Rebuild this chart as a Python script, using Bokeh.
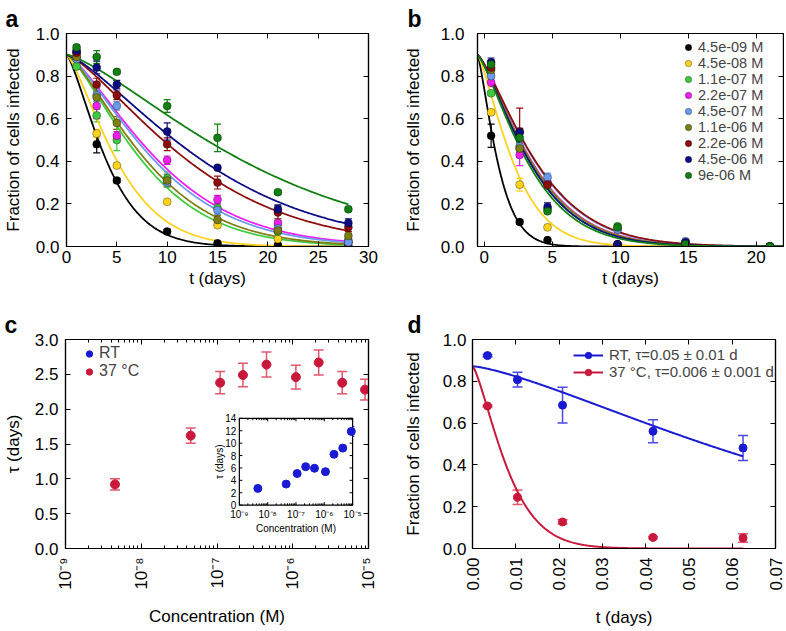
import math
import numpy as np
from bokeh.plotting import figure
from bokeh.layouts import column, row
from bokeh.models import (ColumnDataSource, Whisker, TeeHead, Legend, LegendItem, Title,
                          LinearAxis, LogAxis, FixedTicker, SingleIntervalTicker,
                          NumeralTickFormatter, CustomJSTickFormatter, Range1d, LogScale)
from bokeh.core.properties import value
from bokeh.embed import file_html
from bokeh.resources import INLINE

FONT = "Liberation Sans"

# ---------------- data ----------------
conc_labels = ["4.5e-09 M", "4.5e-08 M", "1.1e-07 M", "2.2e-07 M", "4.5e-07 M",
               "1.1e-06 M", "2.2e-06 M", "4.5e-06 M", "9e-06 M"]
conc_m = [4.5e-9, 4.5e-8, 1.1e-7, 2.2e-7, 4.5e-7, 1.1e-6, 2.2e-6, 4.5e-6, 9e-6]
series_colors = ["#000000", "#FFD21F", "#3FCB3F", "#F01EF0", "#6A9BEA",
                 "#7E7E14", "#8E0B0B", "#0B0B82", "#127F12"]

# panel a (room temperature)
days_a = [1, 3, 5, 10, 15, 21, 28]
a1 = [0.91, 0.48, 0.31, 0.07, 0.015, 0.006, 0.002]
a2 = [0.89, 0.53, 0.38, 0.21, 0.10, 0.035, 0.02]
a3 = [0.845, 0.615, 0.50, 0.32, 0.18, 0.07, 0.03]
a4 = [0.89, 0.66, 0.52, 0.405, 0.22, 0.11, 0.02]
a5 = [0.88, 0.71, 0.66, 0.30, 0.17, 0.085, 0.02]
a6 = [0.89, 0.70, 0.58, 0.31, 0.125, 0.075, 0.05]
a7 = [0.91, 0.76, 0.71, 0.48, 0.30, 0.16, 0.09]
a8 = [0.92, 0.84, 0.76, 0.54, 0.37, 0.175, 0.11]
a9 = [0.935, 0.89, 0.82, 0.66, 0.51, 0.255, 0.175]
ae1 = [0.01, 0.04, 0.01, 0.01, 0.005, 0.005, 0.005]
ae2 = [0.01, 0.02, 0.01, 0.01, 0.01, 0.005, 0.005]
ae3 = [0.01, 0.03, 0.05, 0.03, 0.02, 0.01, 0.01]
ae4 = [0.01, 0.06, 0.02, 0.02, 0.02, 0.01, 0.01]
ae5 = [0.01, 0.03, 0.02, 0.02, 0.02, 0.01, 0.01]
ae6 = [0.01, 0.03, 0.03, 0.03, 0.02, 0.01, 0.01]
ae7 = [0.01, 0.03, 0.02, 0.03, 0.03, 0.03, 0.02]
ae8 = [0.01, 0.03, 0.02, 0.04, 0.01, 0.02, 0.02]
ae9 = [0.01, 0.03, 0.01, 0.03, 0.065, 0.01, 0.01]

# panel b (37 C)
days_b = [0.5, 2.6, 4.65, 9.8, 14.8, 21.0]
b1 = [0.52, 0.115, 0.03, 0.004, 0.002, 0.0]
b2 = [0.63, 0.29, 0.09, 0.008, 0.003, 0.0]
b3 = [0.72, 0.46, 0.175, 0.095, 0.02, 0.0]
b4 = [0.77, 0.43, 0.30, 0.08, 0.02, 0.0]
b5 = [0.80, 0.47, 0.325, 0.08, 0.025, 0.0]
b6 = [0.83, 0.46, 0.29, 0.01, 0.01, 0.0]
b7 = [0.84, 0.54, 0.29, 0.01, 0.01, 0.0]
b8 = [0.865, 0.535, 0.185, 0.01, 0.02, 0.0]
b9 = [0.855, 0.51, 0.165, 0.09, 0.01, 0.0]
be1 = [0.055, 0.01, 0.005, 0.003, 0.002, 0.002]
be2 = [0.01, 0.03, 0.01, 0.005, 0.002, 0.002]
be3 = [0.01, 0.03, 0.01, 0.01, 0.005, 0.002]
be4 = [0.02, 0.05, 0.02, 0.01, 0.005, 0.002]
be5 = [0.02, 0.03, 0.02, 0.01, 0.005, 0.002]
be6 = [0.02, 0.03, 0.02, 0.005, 0.005, 0.002]
be7 = [0.02, 0.11, 0.02, 0.005, 0.005, 0.002]
be8 = [0.02, 0.02, 0.02, 0.005, 0.005, 0.002]
be9 = [0.02, 0.03, 0.01, 0.01, 0.005, 0.002]

# panel c: decay constants
tau_37 = [0.92, 1.62, 2.38, 2.49, 2.64, 2.46, 2.67, 2.38, 2.28]
tau_37_err = [0.08, 0.11, 0.16, 0.17, 0.18, 0.17, 0.18, 0.16, 0.15]
tau_rt = [2.7, 3.4, 5.1, 6.2, 5.95, 5.4, 8.2, 9.2, 11.9]
tau_rt_err = [0.3, 0.3, 0.4, 0.4, 0.4, 0.4, 0.6, 0.6, 0.8]

# panel d
days_d = [0.00347, 0.0104, 0.0208, 0.0417, 0.0625]
rt_d = [0.923, 0.808, 0.686, 0.561, 0.481]
rt_d_err = [0.005, 0.035, 0.085, 0.055, 0.06]
h37_d = [0.682, 0.245, 0.127, 0.053, 0.050]
h37_d_err = [0.005, 0.035, 0.01, 0.005, 0.02]
legend_d = ["RT, \u03c4=0.05 \u00b1 0.01 d", "37 \u00b0C, \u03c4=0.006 \u00b1 0.001 d"]

# fit model parameters (stretched exponential)
F0 = 0.9
K_A, BETA_A = 1.73, 1.35
K_B, BETA_B, T0_B = 1.88, 1.3, -0.5
F0_D = 0.872
fit_scale_d = [0.083, 0.0093]
BETA_D = 1.35

frac_a = [a1, a2, a3, a4, a5, a6, a7, a8, a9]
err_a = [ae1, ae2, ae3, ae4, ae5, ae6, ae7, ae8, ae9]
frac_b = [b1, b2, b3, b4, b5, b6, b7, b8, b9]
err_b = [be1, be2, be3, be4, be5, be6, be7, be8, be9]

RED = "#C8193C"
RED_ERR = "#E2566F"
BLUE = "#1A1AD2"
BLUE_ERR = "#4A4AE6"


# ---------------- helpers ----------------
def base_fig(w, h, l, r, t, b, xr, yr, x_log=False):
    p = figure(width=w, height=h, x_range=xr, y_range=yr,
               x_axis_type="log" if x_log else "linear",
               output_backend="svg", toolbar_location=None,
               min_border_left=l, min_border_right=r,
               min_border_top=t, min_border_bottom=b)
    p.xgrid.visible = False
    p.ygrid.visible = False
    p.outline_line_color = "black"
    p.outline_line_width = 1.2
    p.background_fill_color = "white"
    p.border_fill_color = "white"
    return p


def style_axis(ax, ticker, fmt=None, standoff=7, size="17px", labels=True, minor=False):
    ax.ticker = ticker
    if fmt is not None:
        ax.formatter = fmt
    ax.axis_line_color = "black"
    ax.axis_line_width = 1.2
    ax.major_tick_in = 5
    ax.major_tick_out = 0
    ax.major_tick_line_color = "black"
    if minor:
        ax.minor_tick_in = 3
        ax.minor_tick_out = 0
        ax.minor_tick_line_color = "black"
    else:
        ax.minor_tick_line_color = None
    ax.major_label_text_font = FONT
    ax.axis_label_text_font = FONT
    ax.axis_label_text_font_size = "17px"
    ax.axis_label_text_font_style = "normal"
    ax.axis_label_text_color = "black"
    if labels:
        ax.major_label_text_font_size = size
        ax.major_label_text_color = "black"
        ax.major_label_standoff = standoff
    else:
        ax.major_label_text_font_size = "0px"
        ax.major_label_text_color = None
        ax.major_label_standoff = 0


def axis_title(ax, text, standoff):
    ax.axis_label = text
    ax.axis_label_standoff = standoff


def mirror(p, xt, yt, x_log=False, minor=False):
    top = LogAxis() if x_log else LinearAxis()
    style_axis(top, xt, labels=False, minor=minor)
    p.add_layout(top, "above")
    right = LinearAxis()
    style_axis(right, yt, labels=False)
    p.add_layout(right, "right")


def panel_letter(p, letter, offset):
    p.add_layout(Title(text=letter, align="left", offset=offset, standoff=0,
                       vertical_align="top", text_font=FONT, text_font_size="23px",
                       text_font_style="bold", text_color="black"), "above")


def err_source(x, y, e):
    return ColumnDataSource(dict(x=x, y=y,
                                 lo=[v - d for v, d in zip(y, e)],
                                 hi=[v + d for v, d in zip(y, e)]))


def add_whisker(p, src, color, head=7, width=1.2, **kw):
    p.add_layout(Whisker(source=src, base="x", upper="hi", lower="lo",
                         line_color=color, line_width=width,
                         upper_head=TeeHead(size=head, line_color=color, line_width=width),
                         lower_head=TeeHead(size=head, line_color=color, line_width=width),
                         **kw))


sup_fmt = CustomJSTickFormatter(code="""
const sup = {'-':'\u207b','0':'\u2070','1':'\u00b9','2':'\u00b2','3':'\u00b3','4':'\u2074',
             '5':'\u2075','6':'\u2076','7':'\u2077','8':'\u2078','9':'\u2079'};
const e = Math.round(Math.log10(tick));
return '10' + String(e).split('').map(c => sup[c]).join('');
""")

# ---------------- panel a ----------------
pa = base_fig(390, 310, 63, 22, 33, 64, Range1d(0, 30), Range1d(0, 1))
xt_a = SingleIntervalTicker(interval=5, num_minor_ticks=0)
yt_frac = SingleIntervalTicker(interval=0.2, num_minor_ticks=0)
style_axis(pa.xaxis[0], xt_a, standoff=4)
style_axis(pa.yaxis[0], yt_frac, NumeralTickFormatter(format="0.0"), standoff=7)
axis_title(pa.xaxis[0], "t (days)", 3)
axis_title(pa.yaxis[0], "Fraction of cells infected", 10)
mirror(pa, xt_a, yt_frac)
panel_letter(pa, "a", -61)

t_fit_a = np.linspace(0, max(days_a), 300)
for i in range(9):
    lam = K_A * tau_rt[i]
    pa.line(t_fit_a, F0 * np.exp(-(t_fit_a / lam) ** BETA_A),
            line_color=series_colors[i], line_width=1.8)
for i in range(9):
    src = err_source(days_a, frac_a[i], err_a[i])
    add_whisker(pa, src, series_colors[i])
    pa.scatter("x", "y", source=src, size=8, fill_color=series_colors[i],
               line_color="black", line_alpha=0.55, line_width=0.6)

# ---------------- panel b ----------------
pb = base_fig(394, 310, 87, 1, 33, 64, Range1d(-0.5, 22), Range1d(0, 1))
xt_b = SingleIntervalTicker(interval=5, num_minor_ticks=0)
style_axis(pb.xaxis[0], xt_b, standoff=4)
style_axis(pb.yaxis[0], yt_frac, NumeralTickFormatter(format="0.0"), standoff=13)
axis_title(pb.xaxis[0], "t (days)", 3)
axis_title(pb.yaxis[0], "Fraction of cells infected", 15)
mirror(pb, xt_b, yt_frac)
panel_letter(pb, "b", -70)

t_fit_b = np.linspace(T0_B, 22, 300)
for i in range(9):
    lam = K_B * tau_37[i]
    pb.line(t_fit_b, F0 * np.exp(-((t_fit_b - T0_B) / lam) ** BETA_B),
            line_color=series_colors[i], line_width=1.8)
items_b = []
for i in range(9):
    src = err_source(days_b, frac_b[i], err_b[i])
    add_whisker(pb, src, series_colors[i])
    r = pb.scatter("x", "y", source=src, size=8, fill_color=series_colors[i],
                   line_color="black", line_alpha=0.55, line_width=0.6)
    bar = pb.scatter(x=[], y=[], marker="dash", angle=math.pi / 2, size=14,
                     line_color=series_colors[i], line_width=1.2)
    items_b.append(LegendItem(label=conc_labels[i], renderers=[bar, r]))
leg_b = Legend(items=items_b, location=(202, 63), glyph_width=18, glyph_height=16,
               label_height=16, label_standoff=1, spacing=0, padding=0, margin=0,
               border_line_color=None, background_fill_alpha=0,
               label_text_font=FONT, label_text_font_size="14.5px")
pb.add_layout(leg_b)

# ---------------- panel c ----------------
pc = base_fig(390, 319, 63, 22, 29, 78, Range1d(1e-9, 1e-5), Range1d(0, 3), x_log=True)
decades = [1e-9, 1e-8, 1e-7, 1e-6, 1e-5]
minor_dec = [k * d for d in decades[:-1] for k in range(2, 10)]
xt_c = FixedTicker(ticks=decades, minor_ticks=minor_dec)
yt_c = SingleIntervalTicker(interval=0.5, num_minor_ticks=0)
style_axis(pc.xaxis[0], xt_c, sup_fmt, standoff=9, minor=True)
pc.xaxis[0].major_label_orientation = math.pi / 2
style_axis(pc.yaxis[0], yt_c, NumeralTickFormatter(format="0.0"), standoff=7)
axis_title(pc.xaxis[0], "Concentration (M)", 14)
axis_title(pc.yaxis[0], "\u03c4 (days)", 9)
mirror(pc, xt_c, yt_c, x_log=True, minor=True)
panel_letter(pc, "c", -61)

# inset placement (page pixels) inside the frame of panel c
FR_L, FR_R, FR_T, FR_B = 63, 368, 339, 551
IN_L, IN_R, IN_T, IN_B = 238, 352, 419, 507
inset_x_lim = [1e-9, 1e-5]
inset_y_lim = [0, 14]
lx0, lx1 = math.log10(inset_x_lim[0]), math.log10(inset_x_lim[1])
dpp = (lx1 - lx0) / (IN_R - IN_L)
upp = (inset_y_lim[1] - inset_y_lim[0]) / (IN_B - IN_T)
pc.extra_x_ranges = {"ix": Range1d(10 ** (lx0 - (IN_L - FR_L) * dpp),
                                   10 ** (lx1 + (FR_R - IN_R) * dpp))}
pc.extra_x_scales = {"ix": LogScale()}
pc.extra_y_ranges = {"iy": Range1d(inset_y_lim[0] - (FR_B - IN_B) * upp,
                                   inset_y_lim[1] + (IN_T - FR_T) * upp)}
IK = dict(x_range_name="ix", y_range_name="iy")

pc.quad(left=[inset_x_lim[0]], right=[inset_x_lim[1]], bottom=[inset_y_lim[0]],
        top=[inset_y_lim[1]], fill_color="white", line_color="black", line_width=1.2, **IK)
inset_yticks = [0, 2, 4, 6, 8, 10, 12, 14]
tl_y = 3 * upp
tl_x = 10 ** (3 * dpp)
seg_x0, seg_y0, seg_x1, seg_y1 = [], [], [], []
for d in decades:
    seg_x0 += [d, d]; seg_x1 += [d, d]
    seg_y0 += [inset_y_lim[0], inset_y_lim[1]]
    seg_y1 += [inset_y_lim[0] + tl_y, inset_y_lim[1] - tl_y]
for d in minor_dec:
    seg_x0 += [d, d]; seg_x1 += [d, d]
    seg_y0 += [inset_y_lim[0], inset_y_lim[1]]
    seg_y1 += [inset_y_lim[0] + 0.6 * tl_y, inset_y_lim[1] - 0.6 * tl_y]
for v in inset_yticks:
    seg_x0 += [inset_x_lim[0], inset_x_lim[1]]
    seg_x1 += [inset_x_lim[0] * tl_x, inset_x_lim[1] / tl_x]
    seg_y0 += [v, v]; seg_y1 += [v, v]
pc.segment(seg_x0, seg_y0, seg_x1, seg_y1, line_color="black", line_width=1, **IK)
sup = str.maketrans("-0123456789", "\u207b\u2070\u00b9\u00b2\u00b3\u2074\u2075\u2076\u2077\u2078\u2079")
pc.text(x=[inset_x_lim[0] / 10 ** (3 * dpp)] * len(inset_yticks), y=inset_yticks,
        text=[str(v) for v in inset_yticks], text_font=value(FONT), text_font_size="10px",
        text_align="right", text_baseline="middle", text_color="black", **IK)
pc.text(x=decades, y=[inset_y_lim[0] - 4 * upp] * len(decades),
        text=["10" + str(round(math.log10(d))).translate(sup) for d in decades],
        text_font=value(FONT), text_font_size="10px", text_align="center",
        text_baseline="top", text_color="black", **IK)
pc.text(x=[10 ** ((lx0 + lx1) / 2)], y=[inset_y_lim[0] - 24 * upp], text=["Concentration (M)"],
        text_font=value(FONT), text_font_size="10px", text_align="center",
        text_baseline="middle", text_color="black", **IK)
pc.text(x=[10 ** (lx0 - 20 * dpp)], y=[(inset_y_lim[0] + inset_y_lim[1]) / 2],
        text=["\u03c4 (days)"], angle=math.pi / 2, text_font=value(FONT),
        text_font_size="10px", text_align="center", text_baseline="middle",
        text_color="black", **IK)

src_rt = err_source(conc_m, tau_rt, tau_rt_err)
add_whisker(pc, src_rt, BLUE_ERR, head=6, width=1.2, **IK)
r_rt = pc.scatter("x", "y", source=src_rt, size=8, fill_color=BLUE, line_color=BLUE, **IK)

src_37 = err_source(conc_m, tau_37, tau_37_err)
add_whisker(pc, src_37, RED_ERR, head=10, width=1.5)
r_37 = pc.scatter("x", "y", source=src_37, size=9, fill_color=RED, line_color=RED)

bar_rt = pc.scatter(x=[], y=[], marker="dash", angle=math.pi / 2, size=14,
                    line_color=BLUE_ERR, line_width=1.5)
bar_37 = pc.scatter(x=[], y=[], marker="dash", angle=math.pi / 2, size=14,
                    line_color=RED_ERR, line_width=1.5)
leg_c = Legend(items=[LegendItem(label="RT", renderers=[bar_rt, r_rt]),
                      LegendItem(label="37 \u00b0C", renderers=[bar_37, r_37])],
               location=(16, 168), glyph_width=16, glyph_height=17, label_height=17,
               label_standoff=2, spacing=0, padding=0, margin=0,
               border_line_color=None, background_fill_alpha=0,
               label_text_font=FONT, label_text_font_size="16px")
pc.add_layout(leg_c)

# ---------------- panel d ----------------
pdd = base_fig(396, 319, 82, 11, 29, 78, Range1d(0, 0.07), Range1d(0, 1))
xt_d = SingleIntervalTicker(interval=0.01, num_minor_ticks=0)
style_axis(pdd.xaxis[0], xt_d, NumeralTickFormatter(format="0.00"), standoff=9)
pdd.xaxis[0].major_label_orientation = math.pi / 2
style_axis(pdd.yaxis[0], yt_frac, NumeralTickFormatter(format="0.0"), standoff=6)
axis_title(pdd.xaxis[0], "t (days)", 14)
axis_title(pdd.yaxis[0], "Fraction of cells infected", 17)
mirror(pdd, xt_d, yt_frac)
panel_letter(pdd, "d", -65)

t_fit_d = np.linspace(0, max(days_d), 300)
items_d = []
for vals, errs, lam, col, ecol, lab in [(rt_d, rt_d_err, fit_scale_d[0], BLUE, BLUE_ERR, legend_d[0]),
                                        (h37_d, h37_d_err, fit_scale_d[1], RED, RED_ERR, legend_d[1])]:
    ln = pdd.line(t_fit_d, F0_D * np.exp(-(t_fit_d / lam) ** BETA_D), line_color=col, line_width=2)
    src = err_source(days_d, vals, errs)
    add_whisker(pdd, src, ecol, head=10, width=1.5)
    sc = pdd.scatter("x", "y", source=src, size=8, fill_color=col, line_color=col)
    bar = pdd.scatter(x=[], y=[], marker="dash", angle=math.pi / 2, size=14,
                      line_color=ecol, line_width=1.5)
    items_d.append(LegendItem(label=lab, renderers=[ln, bar, sc]))
leg_d = Legend(items=items_d, location=(101, 168), glyph_width=30, glyph_height=16,
               label_height=16, label_standoff=6, spacing=0, padding=0, margin=0,
               border_line_color=None, background_fill_alpha=0,
               label_text_font=FONT, label_text_font_size="15px")
pdd.add_layout(leg_d)

layout = column(row(pa, pb), row(pc, pdd))
open("out.html", "w").write(file_html(layout, INLINE))
